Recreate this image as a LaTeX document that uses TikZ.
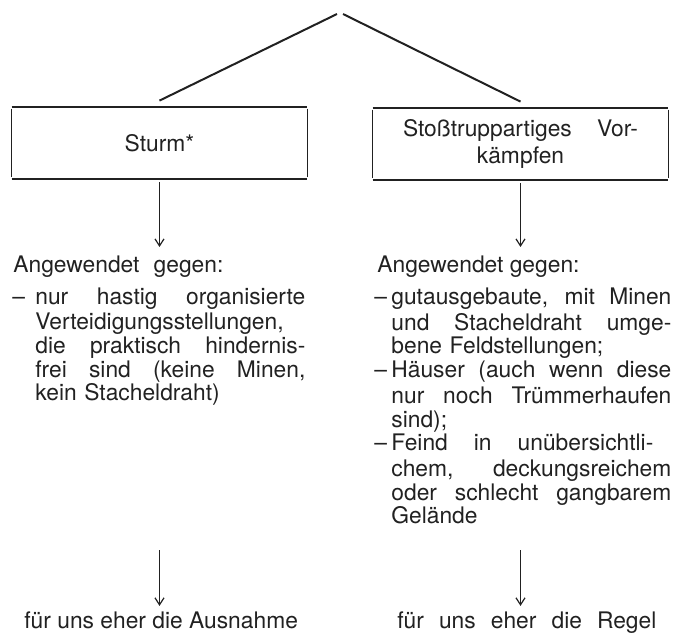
\documentclass[tikz,border=0pt]{standalone}
\usepackage{fontspec}
\setmainfont{TeX Gyre Heros}
\usetikzlibrary{positioning,calc,arrows.meta}
\definecolor{druck}{gray}{0.13}
% Strich am Zeilenanfang, Zeile auf volle Breite gesperrt
\newcommand{\strich}[1]{\makebox[#1][l]{\strut\hspace{-0.5pt}--}}
\newcommand{\voll}[2]{\makebox[#1][s]{\spaceskip=0pt\xspaceskip=0pt\relax #2}}

\begin{document}
\begin{tikzpicture}[
    x=0.5pt, y=-0.5pt,
    every node/.style={font=\fontsize{11.4}{11.85}\selectfont, text=druck, inner sep=0pt},
    kasten/.style={minimum width=147.5pt, minimum height=36pt},
    liste/.style={anchor=north west, align=left},
    pfeil/.style={draw=druck, line width=0.6pt, shorten <=1.5pt, -{Straight Barb[length=3.5pt,width=4.5pt]}},
    rand/.style={draw=druck, line width=1pt},
    seite/.style={draw=druck, line width=0.8pt, shorten >=1pt, shorten <=1pt}
]
    \useasboundingbox (0,0) rectangle (681,633);

    % Spitze und die beiden Kaesten
    \coordinate (spitze) at (340,14);
    \node [kasten] (sturm) at (159.5,143) {Sturm*};
    \node [kasten, text width=117.5pt, align=center, font=\fontsize{11.4}{13.5}\selectfont] (stoss) at (520.5,144)
        {\voll{117.5pt}{Stoßtruppartiges Vor-}\\kämpfen};

    \draw [rand] ([xshift=-1.5pt]spitze) -- ([yshift=3pt]sturm.north);
    \draw [rand] ([xshift=1.5pt]spitze) -- ([yshift=3pt]stoss.north);

    \draw [rand] (sturm.north west) -- (sturm.north east);
    \draw [rand] (sturm.south west) -- (sturm.south east);
    \draw [seite] (sturm.north west) -- (sturm.south west);
    \draw [seite] (sturm.north east) -- (sturm.south east);

    \draw [rand] (stoss.north west) -- (stoss.north east);
    \draw [rand] (stoss.south west) -- (stoss.south east);
    \draw [seite] (stoss.north west) -- (stoss.south west);
    \draw [seite] (stoss.north east) -- (stoss.south east);

    % Anwendung
    \node [anchor=base west] (gegenL) at (13,272) {\voll{105pt}{Angewendet gegen:}};
    \node [anchor=base west] (gegenR) at (377,272) {Angewendet gegen:};
    \draw [pfeil] (sturm.south) -- ([yshift=4pt]sturm.south |- gegenL.north);
    \draw [pfeil] (stoss.south) -- ([yshift=4pt]stoss.south |- gegenR.north);

    \node [liste, text width=146pt] (listeL) at (13,287)
        {\strich{11pt}\voll{135pt}{nur hastig organisierte}\\
         \hspace*{11pt}Verteidigungsstellungen,\\
         \hspace*{11pt}\voll{135pt}{die praktisch hindernis-}\\
         \hspace*{11pt}\voll{135pt}{frei sind (keine Minen,}\\
         \hspace*{11pt}kein Stacheldraht)};
    \node [liste, text width=148pt] (listeR) at (375,287)
        {\strich{8pt}\voll{140pt}{gutausgebaute, mit Minen}\\
         \hspace*{8pt}\voll{140pt}{und Stacheldraht umge-}\\
         \hspace*{8pt}bene Feldstellungen;\\
         \strich{8pt}\voll{140pt}{Häuser (auch wenn diese}\\
         \hspace*{8pt}\voll{140pt}{nur noch Trümmerhaufen}\\
         \hspace*{8pt}sind);\\
         \strich{8pt}\voll{131pt}{Feind in unübersichtli-}\\
         \hspace*{8pt}\voll{140pt}{chem, deckungsreichem}\\
         \hspace*{8pt}\voll{140pt}{oder schlecht gangbarem}\\
         \hspace*{8pt}Gelände\strut};

    % Folgerung
    \coordinate (unten) at ($(listeR.south)+(0,-8pt)$);
    \node [anchor=base west] (ausnahme) at (24,628) {für uns eher die Ausnahme};
    \node [anchor=base west] (regel) at (397,628) {\voll{129.5pt}{für uns eher die Regel}};
    \draw [pfeil] (sturm.south |- unten) -- ([yshift=2.5pt]sturm.south |- ausnahme.north);
    \draw [pfeil] (stoss.south |- unten) -- ([yshift=2.5pt]stoss.south |- regel.north);
\end{tikzpicture}
\end{document}
